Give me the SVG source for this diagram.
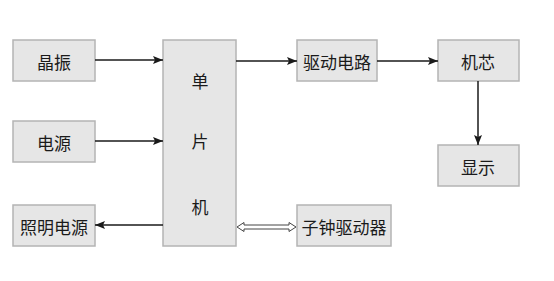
<svg xmlns="http://www.w3.org/2000/svg" width="554" height="281" viewBox="0 0 554 281">
<style>
.box{fill:#e6e6e6;stroke:#b4b4b4;stroke-width:1.5}
.t{font-family:"Noto Sans CJK SC","Liberation Sans",sans-serif;font-size:17px;fill:#1a1a1a;text-anchor:middle;dominant-baseline:central}
.ln{stroke:#1a1a1a;stroke-width:1.5;fill:none}
</style>
<defs>
<marker id="ah" viewBox="0 0 10 8" refX="10" refY="4" markerWidth="10" markerHeight="8" markerUnits="userSpaceOnUse" orient="auto">
<path d="M0,0 L10,4 L0,8 L2,4 Z" fill="#1a1a1a"/>
</marker>
</defs>
<rect width="554" height="281" fill="#fff"/>
<g id="n-jingzhen"><rect class="box" x="13" y="40" width="82" height="41"/><text class="t" x="54" y="61">晶振</text></g>
<g id="n-dianyuan"><rect class="box" x="13" y="121" width="82" height="41"/><text class="t" x="54" y="142">电源</text></g>
<g id="n-zhaoming"><rect class="box" x="13" y="205" width="82" height="41"/><text class="t" x="54" y="226">照明电源</text></g>
<g id="n-mcu"><rect class="box" x="163" y="40" width="73" height="206"/><text class="t" x="200" y="80">单</text><text class="t" x="200" y="140">片</text><text class="t" x="200" y="206">机</text></g>
<g id="n-qudong"><rect class="box" x="297" y="40" width="80" height="41"/><text class="t" x="337" y="61">驱动电路</text></g>
<g id="n-jixin"><rect class="box" x="438" y="40" width="81" height="41"/><text class="t" x="478" y="61">机芯</text></g>
<g id="n-xianshi"><rect class="box" x="438" y="145" width="81" height="41"/><text class="t" x="478" y="166">显示</text></g>
<g id="n-zizhong"><rect class="box" x="297" y="205" width="94" height="41"/><text class="t" x="344" y="226">子钟驱动器</text></g>
<g id="connectors">
<line class="ln" x1="95" y1="60" x2="163" y2="60" marker-end="url(#ah)"/>
<line class="ln" x1="95" y1="141" x2="163" y2="141" marker-end="url(#ah)"/>
<line class="ln" x1="163" y1="225" x2="95" y2="225" marker-end="url(#ah)"/>
<line class="ln" x1="236" y1="61" x2="297" y2="61" marker-end="url(#ah)"/>
<line class="ln" x1="377" y1="61" x2="438" y2="61" marker-end="url(#ah)"/>
<line class="ln" x1="478" y1="81" x2="478" y2="145" marker-end="url(#ah)"/>
<path d="M237,227 L244,222.5 L244,225 L289,225 L289,222.5 L296,227 L289,231.5 L289,229 L244,229 L244,231.5 Z" fill="#fff" stroke="#444" stroke-width="1"/>
</g>
</svg>
